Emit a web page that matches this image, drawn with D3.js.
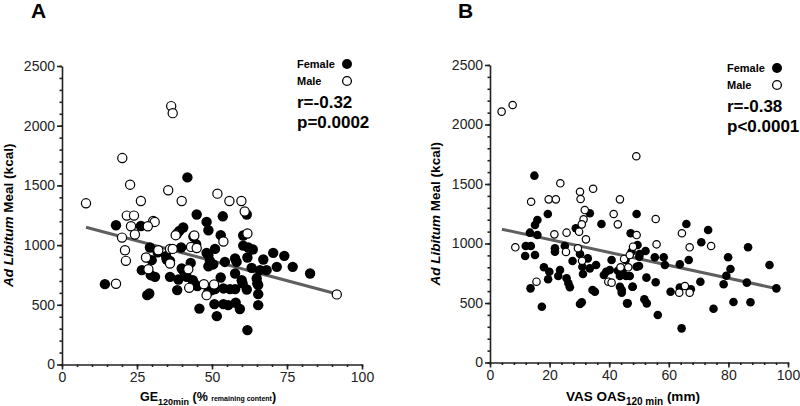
<!DOCTYPE html>
<html>
<head>
<meta charset="utf-8">
<script src="https://cdn.jsdelivr.net/npm/d3@7"></script>
<style>
  body { margin: 0; background: #fff; }
  svg { font-family: "Liberation Sans", Arial, sans-serif; }
  .axis path, .axis line { stroke: #222; }
  .axis text { fill: #222; font-size: 14px; }
</style>
</head>
<body>
<div id="chart"></div>
<script>
// panel A: GE 120min vs ad libitum meal
const femaleA = [
  [41.8,1567],[61.6,1256],[44.9,1256],[53.6,1241],[18,1166],[26.3,1160],[48.2,1194],[48.8,1124],
  [40.4,1147],[39.1,1119],[38.4,1097],[43.8,1072],[52.9,1083],[60.4,1080],[44.7,1007],[39.7,980],
  [29.3,980],[31.9,940],[51,968],[48.2,935],[48.8,915],[60.4,996],[62.1,980],[63.6,963],
  [34.7,907],[34.9,879],[36,868],[29.9,874],[42.9,851],[49.3,868],[50.4,838],[54.3,859],
  [57.7,888],[58.2,859],[61.8,896],[48.8,823],[26.6,790],[29.6,748],[31,734],[36,734],
  [39.9,804],[40.7,776],[38.8,712],[41.6,734],[43.6,706],[44.1,679],[45.1,656],[38.4,623],
  [52.9,729],[57.7,762],[59.9,706],[60.2,679],[51,631],[49.9,623],[48.8,609],[53.8,637],
  [56,631],[57.7,631],[61.6,628],[64.9,720],[65.1,679],[65.4,589],[14.3,673],[28.4,581],
  [29.1,595],[45.8,468],[50.8,506],[53.8,506],[55.4,497],[57.9,517],[59.3,465],[51.6,405],
  [65.4,497],[61.8,288],[67.1,879],[70.4,935],[74.1,910],[71.6,818],[76.9,818],[82.7,762],
  [63.2,809],[66,790],[68.2,790],[65.4,665]
];
const maleA = [
  [36.4,2164],[36.9,2105],[20.1,1729],[22.7,1506],[35.4,1459],[51.8,1431],[8,1350],[26.3,1369],
  [39.9,1369],[55.8,1369],[59.8,1369],[60.9,1281],[21.6,1247],[24,1247],[30.4,1202],[30.9,1194],
  [23,1158],[28.6,1158],[37.9,1083],[24.3,1089],[20,1063],[44.1,1080],[53.8,1030],[61.8,1097],
  [43,985],[44.9,976],[36,968],[36.9,968],[32.1,957],[21,957],[28,896],[36,846],
  [21.3,868],[28.8,798],[42.1,798],[42.4,642],[47.3,673],[50.7,670],[48.2,581],[18,676],
  [91.6,587]
];
const fitA = [[8,1150],[92,588]];

// panel B: VAS OAS 120 min vs ad libitum meal
const femaleB = [
  [14.9,1570],[33.5,1254],[37.4,1164],[28.8,1128],[19.4,1248],[15.9,1197],[15.1,1155],[13.4,1091],
  [15.9,1071],[12,979],[13.7,979],[11.8,895],[15.1,903],[21.8,960],[21.8,931],[25.1,979],
  [30.2,912],[32.8,875],[27.7,853],[35.6,819],[33.5,791],[31,805],[31.2,744],[18.1,800],
  [19.9,763],[23.5,777],[22.9,727],[19.5,699],[25.7,708],[26.3,666],[26.8,632],[13.6,623],
  [17.4,469],[34.4,609],[35.2,595],[30.2,492],[30.8,506],[38.2,735],[39,763],[40.2,777],
  [40.8,861],[42.9,771],[43.6,727],[44.5,755],[43.6,637],[44.2,609],[44.2,587],[46.2,497],
  [47.9,637],[45.5,861],[46.9,727],[49.2,805],[49.5,987],[49.2,1248],[47.5,931],[50.1,889],
  [65.9,1164],[73.2,1113],[47.2,1086],[70.9,1010],[86.6,968],[52.2,937],[50.2,912],[55.3,884],
  [58.3,884],[58.7,819],[63.7,825],[66.7,861],[79.9,884],[80.7,786],[79.3,729],[78.4,657],
  [93.8,819],[86.2,671],[96.1,623],[70.6,679],[55.6,674],[52.5,713],[50,811],[47.8,637],
  [45.7,727],[60.6,595],[63.7,629],[67.4,615],[46,497],[51.8,531],[52.6,497],[56.3,399],
  [75,452],[81.7,508],[87.4,506],[64.3,287]
];
const maleB = [
  [3.9,2108],[7.6,2164],[23.6,1506],[30.2,1435],[30.4,1374],[34.6,1460],[49.1,1733],[13.8,1351],
  [19.7,1371],[22.1,1371],[43.6,1371],[41.5,1248],[42.9,1161],[31.8,1281],[31.4,1203],[30.8,1161],
  [29.9,1099],[32.2,1035],[21.6,1077],[25.7,1091],[8.5,968],[25.5,929],[29.5,960],[30.9,855],
  [15.6,679],[39.7,679],[40.8,671],[43.8,800],[46.4,800],[45,870],[46.9,903],[48,973],
  [49.2,1071],[55.6,1206],[64.4,1086],[67,968],[74.2,979],[55.9,993],[63.5,587],[67,587],
  [65.4,643]
];
const fitB = [[4,1120],[96,622]];

const yTicks = [0, 500, 1000, 1500, 2000, 2500];
const xTicksA = [0, 25, 50, 75, 100];
const xTicksB = [0, 20, 40, 60, 80, 100];

const svg = d3.select('#chart').append('svg')
  .attr('width', 800)
  .attr('height', 406);

function panel(opt) {
  const x = d3.scaleLinear().domain([0, 100]).range([opt.left, opt.right]);
  const y = d3.scaleLinear().domain([0, 2500]).range([opt.bottom, opt.top]);
  const g = svg.append('g');

  // panel letter
  g.append('text')
    .attr('x', opt.letterX)
    .attr('y', 18)
    .style('font-size', '21px')
    .style('font-weight', 'bold')
    .text(opt.letter);

  // minor ticks first, then the main axes on top
  g.append('g')
    .attr('class', 'axis')
    .attr('transform', `translate(${opt.left},0)`)
    .call(d3.axisLeft(y).tickValues(d3.range(0, 2501, opt.yMinor)).tickSize(2.5).tickFormat(''))
    .call(a => a.select('.domain').remove());
  g.append('g')
    .attr('class', 'axis')
    .attr('transform', `translate(0,${opt.bottom})`)
    .call(d3.axisBottom(x).tickValues(d3.range(0, 101, opt.xMinor)).tickSize(2.5).tickFormat(''))
    .call(a => a.select('.domain').remove());

  g.append('g')
    .attr('class', 'axis')
    .attr('transform', `translate(${opt.left},0)`)
    .call(d3.axisLeft(y).tickValues(yTicks).tickFormat(d3.format('d'))
      .tickSize(5).tickSizeOuter(0).tickPadding(2));
  g.append('g')
    .attr('class', 'axis')
    .attr('transform', `translate(0,${opt.bottom})`)
    .call(d3.axisBottom(x).tickValues(opt.xTicks).tickFormat(d3.format('d'))
      .tickSize(5).tickSizeOuter(0).tickPadding(3));
  g.selectAll('.axis path, .axis line').attr('stroke-width', 1.6);

  // y title
  const yt = g.append('text')
    .attr('transform', `translate(${opt.yTitleX},${(opt.top + opt.bottom) / 2}) rotate(-90)`)
    .attr('text-anchor', 'middle')
    .style('font-size', '13.5px')
    .style('font-weight', 'bold');
  yt.append('tspan').style('font-style', 'italic').text('Ad Libitum');
  yt.append('tspan').text(' Meal (kcal)');

  // x title with subscript
  const xt = g.append('text')
    .attr('x', opt.xTitleX)
    .attr('y', 401)
    .attr('text-anchor', 'middle')
    .style('font-size', opt.xTitleSize + 'px')
    .style('font-weight', 'bold');
  opt.xTitle.forEach(p => {
    const t = xt.append('tspan').text(p.text);
    if (p.size) t.style('font-size', p.size + 'px');
    if (p.dy) t.attr('dy', p.dy);
  });

  // fit line
  g.append('path')
    .datum(opt.fit)
    .attr('fill', 'none')
    .attr('stroke', '#5f5f5f')
    .attr('stroke-width', 3)
    .attr('d', d3.line().x(d => x(d[0])).y(d => y(d[1])));

  // points
  g.selectAll('.female')
    .data(opt.female)
    .enter().append('circle')
    .attr('cx', d => x(d[0]))
    .attr('cy', d => y(d[1]))
    .attr('r', opt.r)
    .attr('fill', '#000');
  g.selectAll('.male')
    .data(opt.male)
    .enter().append('circle')
    .attr('cx', d => x(d[0]))
    .attr('cy', d => y(d[1]))
    .attr('r', opt.r - 0.6)
    .attr('fill', '#fff')
    .attr('stroke', '#000')
    .attr('stroke-width', 1.2);

  // legend + stats
  const lx = opt.legendX, ly = opt.legendY;
  g.append('text').attr('x', lx).attr('y', ly + 4)
    .style('font-size', '11px').style('font-weight', 'bold').text('Female');
  g.append('circle').attr('cx', lx + 50).attr('cy', ly).attr('r', 5).attr('fill', '#000');
  g.append('text').attr('x', lx).attr('y', ly + 21)
    .style('font-size', '11px').style('font-weight', 'bold').text('Male');
  g.append('circle').attr('cx', lx + 50).attr('cy', ly + 17).attr('r', 4.4)
    .attr('fill', '#fff').attr('stroke', '#000').attr('stroke-width', 1.3);
  g.append('text').attr('x', lx).attr('y', ly + 44)
    .style('font-size', '17px').style('font-weight', 'bold').text(opt.r_text);
  g.append('text').attr('x', lx).attr('y', ly + 64)
    .style('font-size', '17px').style('font-weight', 'bold').text(opt.p_text);
}

panel({
  letter: 'A', letterX: 31,
  left: 62, right: 362, top: 66, bottom: 364.5,
  xTicks: xTicksA, xMinor: 5, yMinor: 100,
  yTitleX: 13, xTitleX: 208, xTitleSize: 12.5,
  xTitle: [
    {text: 'GE'},
    {text: '120min', size: 9, dy: 3.5},
    {text: ' (% ', dy: -3.5},
    {text: 'remaining content', size: 7},
    {text: ')'}
  ],
  fit: fitA, female: femaleA, male: maleA, r: 5.2,
  legendX: 297, legendY: 64, r_text: 'r=-0.32', p_text: 'p=0.0002'
});

panel({
  letter: 'B', letterX: 458,
  left: 490, right: 788, top: 65, bottom: 362.5,
  xTicks: xTicksB, xMinor: 4, yMinor: 100,
  yTitleX: 440, xTitleX: 633, xTitleSize: 13.5,
  xTitle: [
    {text: 'VAS OAS'},
    {text: '120 min', size: 10, dy: 3.5},
    {text: ' (mm)', dy: -3.5}
  ],
  fit: fitB, female: femaleB, male: maleB, r: 4.3,
  legendX: 727, legendY: 68, r_text: 'r=-0.38', p_text: 'p<0.0001'
});
</script>
</body>
</html>
